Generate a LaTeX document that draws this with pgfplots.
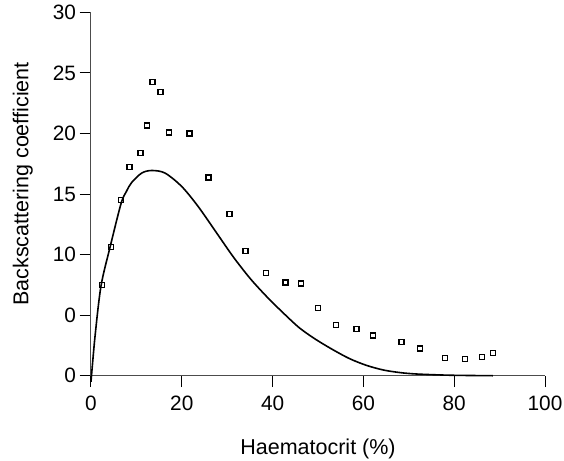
\documentclass[border=0pt]{standalone}
\usepackage{fontspec}
\setmainfont{Liberation Sans}
\usepackage{pgfplots}
\pgfplotsset{compat=1.18}
\usetikzlibrary{calc}
\begin{document}
\begin{tikzpicture}
\path[use as bounding box] (-91pt,-84.3pt) rectangle (473pt,375.7pt);
\begin{axis}[
  at={(0pt,0pt)}, anchor=south west,
  scale only axis, width=454pt, height=363.4pt,
  xmin=0, xmax=100, ymin=0, ymax=30,
  axis x line*=bottom, axis y line*=left,
  axis line style={black!70, line width=1pt, -},
  xtick={0,20,40,60,80,100}, xticklabels={0,20,40,60,80,100},
  ytick={0,5,10,15,20,25,30}, yticklabels={0,0,10,15,20,25,30},
  tick align=outside, major tick length=11.5pt,
  tick style={black, line width=1pt},
  ticklabel style={font=\fontsize{20.8}{24}\selectfont},
  xticklabel style={yshift=-5pt},
  xlabel={Haematocrit (\%)},
  ylabel={Backscattering coefficient},
  label style={font=\fontsize{21.5}{25}\selectfont},
  xlabel style={at={($(axis description cs:0.5,0)+(0pt,-78.3pt)$)}, anchor=base},
  ylabel style={at={($(axis description cs:0,0.5)+(-62.7pt,10pt)$)}, anchor=base},
  clip=false,
]
\addplot[black, line width=1.6pt, smooth, tension=0.5] coordinates {
(0,-0.5) (0.88,3.22) (2.2,7.4) (4.19,10.6) (6.61,14.2) (7.78,15.2) (8.96,15.95) (11.17,16.73)
(13.37,16.94) (16.3,16.73) (19.98,15.62) (23.6,13.97) (27.7,11.77) (31.3,9.83)
(35.0,8.05) (38.7,6.53) (42.4,5.16) (46.0,3.92) (49.7,2.95) (53.4,2.12) (57.0,1.40)
(60.7,0.85) (64.4,0.47) (68,0.26) (71.7,0.14) (79,0.04) (88.5,0.0)
};
\addplot[only marks, mark=square, mark size=2.5pt, mark options={black, line width=1.4pt, solid, fill=white}] coordinates {
(2.36,7.47) (4.34,10.64) (6.67,14.52) (8.52,17.25) (10.86,18.40) (12.27,20.66)
(13.59,24.25) (15.35,23.42) (17.18,20.08) (21.7,19.98) (25.9,16.36) (30.55,13.36)
(34.07,10.28) (38.48,8.49) (42.8,7.69) (46.2,7.60) (50.0,5.6) (53.96,4.17)
(58.5,3.86) (62.05,3.31) (68.35,2.76) (72.4,2.23) (77.97,1.44) (82.4,1.40)
(86.1,1.55) (88.5,1.85)
};
\end{axis}
\end{tikzpicture}
\end{document}
